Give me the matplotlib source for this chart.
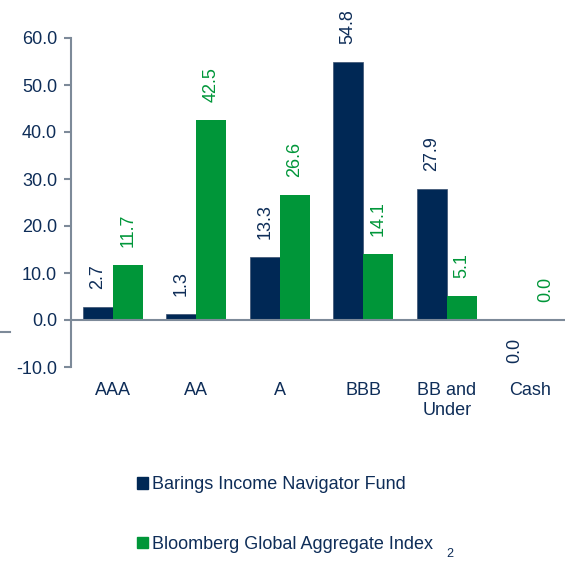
import matplotlib.pyplot as plt
import numpy as np
from matplotlib.lines import Line2D

plt.rcParams['font.family'] = ['Liberation Sans', 'DejaVu Sans']

categories = ["AAA", "AA", "A", "BBB", "BB and\nUnder", "Cash"]
fund = [2.7, 1.3, 13.3, 54.8, 27.9, 0.0]
index = [11.7, 42.5, 26.6, 14.1, 5.1, 0.0]
series_names = ["Barings Income Navigator Fund", "Bloomberg Global Aggregate Index"]

navy = "#002855"
green = "#009639"
text_col = "#0e2d58"
axis_col = "#7d8a99"
fs = 13

fig = plt.figure(figsize=(5.65, 5.62), dpi=100)
ax = fig.add_axes([71 / 565, 1 - 367 / 562, 501 / 565, (367 - 38) / 562])

x = np.arange(len(categories))
w = 0.36
b1 = ax.bar(x - w / 2, fund, w, color=navy, edgecolor="#3a5070", linewidth=0.5, label=series_names[0])
b2 = ax.bar(x + w / 2, index, w, color=green, label=series_names[1])

ax.set_xlim(-0.5, 5.5)
ax.set_ylim(-10, 60)
ax.set_yticks(np.arange(-10, 61, 10))
ax.set_yticklabels([f"{v:.1f}" for v in np.arange(-10, 61, 10)])
ax.set_xticks(x)
ax.set_xticklabels(categories)
ax.tick_params(axis="x", length=0, pad=11, labelsize=fs, labelcolor=text_col)
ax.tick_params(axis="y", length=5, width=1.5, color=axis_col, labelsize=fs, labelcolor=text_col, pad=5)

for s in ["top", "right", "bottom"]:
    ax.spines[s].set_visible(False)
ax.spines["left"].set_color(axis_col)
ax.spines["left"].set_linewidth(1.5)
ax.axhline(0, color=axis_col, linewidth=1.5, zorder=3, clip_on=False)

for bars, vals, col in [(b1, fund, text_col), (b2, index, green)]:
    for rect, v in zip(bars, vals):
        cx = rect.get_x() + rect.get_width() / 2
        if v == 0 and col == text_col:
            ax.annotate(f"{v:.1f}", (cx, 0), xytext=(0, -13), textcoords="offset points",
                        rotation=90, ha="center", va="top", color=col, fontsize=fs)
        else:
            ax.annotate(f"{v:.1f}", (cx, v), xytext=(0, 13), textcoords="offset points",
                        rotation=90, ha="center", va="bottom", color=col, fontsize=fs)

handles = [plt.Rectangle((0, 0), 1, 1, color=navy), plt.Rectangle((0, 0), 1, 1, color=green)]
fig.legend(handles, series_names, loc="upper left", bbox_to_anchor=(121 / 565, 1 - 460 / 562),
           frameon=False, fontsize=fs, labelcolor=text_col, handlelength=0.6, handleheight=0.6,
           handletextpad=0.2, labelspacing=2.35)

# stray marks in the original slide
fig.add_artist(Line2D([0, 10 / 565], [1 - 332 / 562] * 2, color=axis_col, linewidth=1.5))
fig.text(450 / 565, 1 - 560 / 562, "2", fontsize=9, color=text_col, ha="center", va="bottom")

fig.savefig("out.png", dpi=100)
